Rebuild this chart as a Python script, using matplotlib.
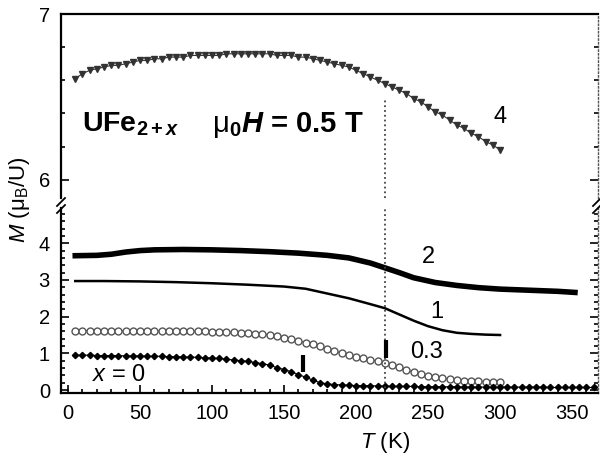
import numpy as np
import matplotlib.pyplot as plt
from matplotlib.ticker import MultipleLocator
from matplotlib.lines import Line2D

plt.rcParams['font.family'] = ['Liberation Sans', 'DejaVu Sans']
plt.rcParams['mathtext.fontset'] = 'custom'
plt.rcParams['mathtext.rm'] = 'Liberation Sans'
plt.rcParams['mathtext.it'] = 'Liberation Sans:italic'
plt.rcParams['mathtext.bf'] = 'Liberation Sans:bold'
plt.rcParams['mathtext.bfit'] = 'Liberation Sans:bold:italic'

# x = 4 (upper panel), triangles
t_x4 = np.arange(5, 305, 5)
m_x4 = [6.61, 6.64, 6.66, 6.67, 6.68, 6.69, 6.69, 6.70, 6.71, 6.72,
        6.72, 6.73, 6.73, 6.74, 6.74, 6.74, 6.75, 6.75, 6.75, 6.75,
        6.75, 6.76, 6.76, 6.76, 6.76, 6.76, 6.76, 6.76, 6.75, 6.75,
        6.75, 6.74, 6.74, 6.73, 6.72, 6.71, 6.70, 6.69, 6.68, 6.66,
        6.64, 6.62, 6.60, 6.58, 6.56, 6.54, 6.52, 6.49, 6.47, 6.44,
        6.41, 6.39, 6.36, 6.33, 6.31, 6.28, 6.26, 6.23, 6.21, 6.18]

# x = 2, thick line
t_x2 = [5, 20, 30, 40, 50, 60, 80, 100, 120, 140, 160, 180, 195, 210, 220,
        230, 240, 255, 270, 285, 300, 320, 340, 352]
m_x2 = [3.66, 3.67, 3.70, 3.76, 3.80, 3.82, 3.83, 3.82, 3.80, 3.77, 3.73,
        3.67, 3.60, 3.46, 3.33, 3.20, 3.06, 2.93, 2.85, 2.79, 2.75, 2.72,
        2.69, 2.66]

# x = 1, thin line
t_x1 = [5, 25, 50, 75, 100, 125, 150, 165, 180, 195, 210, 220, 230, 240,
        250, 260, 270, 280, 290, 300]
m_x1 = [2.97, 2.97, 2.96, 2.94, 2.91, 2.87, 2.82, 2.76, 2.63, 2.50, 2.34,
        2.23, 2.06, 1.89, 1.74, 1.63, 1.56, 1.53, 1.51, 1.50]

# x = 0.3, open circles
t_x03 = np.arange(5, 305, 5)
m_x03 = [1.62, 1.62, 1.62, 1.62, 1.62, 1.62, 1.62, 1.61, 1.61, 1.61,
         1.61, 1.61, 1.61, 1.61, 1.61, 1.60, 1.60, 1.60, 1.60, 1.59,
         1.59, 1.58, 1.57, 1.56, 1.55, 1.53, 1.52, 1.50, 1.46, 1.42,
         1.38, 1.34, 1.29, 1.25, 1.19, 1.13, 1.07, 1.01, 0.95, 0.91,
         0.87, 0.83, 0.78, 0.74, 0.68, 0.62, 0.55, 0.48, 0.43, 0.39,
         0.35, 0.32, 0.30, 0.28, 0.26, 0.25, 0.24, 0.23, 0.22, 0.22]

# x = 0, filled diamonds
t_x0 = np.arange(5, 370, 5)
m_x0 = [0.95, 0.95, 0.95, 0.94, 0.94, 0.94, 0.94, 0.93, 0.93, 0.93,
        0.92, 0.92, 0.92, 0.91, 0.91, 0.90, 0.90, 0.89, 0.88, 0.87,
        0.86, 0.84, 0.82, 0.80, 0.78, 0.75, 0.72, 0.68, 0.61, 0.56,
        0.50, 0.42, 0.35, 0.27, 0.20, 0.17, 0.15, 0.14, 0.13, 0.12,
        0.12, 0.12, 0.11, 0.11, 0.10, 0.10, 0.10, 0.10, 0.09, 0.09,
        0.09, 0.09, 0.09, 0.09, 0.08, 0.08, 0.08, 0.08, 0.08, 0.08,
        0.08, 0.08, 0.08, 0.08, 0.08, 0.08, 0.07, 0.07, 0.07, 0.07,
        0.07, 0.07, 0.07]

# transition markers (T, M bottom, M top)
bar_t = [163, 221]
bar_lo = [0.49, 0.87]
bar_hi = [0.95, 1.36]
t_line = 220

fig = plt.figure(figsize=(6, 4.54), dpi=100)
W, H = 600, 454
left, right = 61 / W, 598 / W
ax_up = fig.add_axes([left, (H - 198) / H, right - left, (198 - 14) / H])
ax_lo = fig.add_axes([left, (H - 393) / H, right - left, (393 - 208) / H])

for ax in (ax_up, ax_lo):
    ax.set_xlim(-4.9, 368)
    ax.xaxis.set_major_locator(MultipleLocator(50))
    ax.xaxis.set_minor_locator(MultipleLocator(10))
    ax.yaxis.set_minor_locator(MultipleLocator(0.2))
    ax.tick_params(which='both', direction='in', right=True, labelsize=14.5,
                   width=1.2, pad=8)
    ax.tick_params(which='major', length=6)
    ax.tick_params(which='minor', length=3)
    for s in ax.spines.values():
        s.set_linewidth(1.6)
    ax.spines['right'].set_linestyle(':')
    ax.spines['right'].set_linewidth(1.0)
    ax.spines['right'].set_color('#555555')

ax_up.set_ylim(5.89, 7.0)
ax_up.set_yticks([6, 7])
ax_up.spines['bottom'].set_visible(False)
ax_up.tick_params(which='both', bottom=False, labelbottom=False)

ax_lo.set_ylim(-0.08, 4.96)
ax_lo.set_yticks([0, 1, 2, 3, 4])
ax_lo.spines['top'].set_visible(False)
ax_lo.tick_params(which='both', top=False)

# curves
ax_up.plot(t_x4, m_x4, color='#333333', lw=0.8, marker='v', ms=3.8,
           mfc='#333333', mec='#333333')
ax_lo.plot(t_x2, m_x2, color='black', lw=4)
ax_lo.plot(t_x1, m_x1, color='black', lw=1.8)
ax_lo.plot(t_x03, m_x03, color='#555555', lw=0.8, marker='o', ms=5,
           mfc='white', mec='#555555', mew=1.0)
ax_lo.plot(t_x0, m_x0, color='black', lw=0.8, marker='D', ms=3.2,
           mfc='black', mec='black')

# dotted line at 220 K and short transition bars
ax_up.vlines(t_line, 5.89, 6.48, colors='#444444', linestyles=':', lw=1.3)
ax_lo.vlines(t_line, -0.08, 4.96, colors='#444444', linestyles=':', lw=1.3)
ax_lo.vlines(bar_t, bar_lo, bar_hi, colors='black', lw=3)

# labels
ax_up.text(300, 6.38, '4', fontsize=17, ha='center', va='center')
ax_lo.text(250, 3.62, '2', fontsize=17, ha='center', va='center')
ax_lo.text(256, 2.13, '1', fontsize=17, ha='center', va='center')
ax_lo.text(249, 1.04, '0.3', fontsize=17, ha='center', va='center')
ax_lo.text(35, 0.42, r'$\mathit{x}$ = 0', fontsize=17, ha='center', va='center')

ax_up.text(9.5, 6.29, r'$\mathbf{UFe}_{\mathbf{2+}\mathbfit{x}}$', fontsize=20.5,
           ha='left', va='baseline')
ax_up.text(100, 6.29, r'$\mathrm{\mu}_{\mathbf{0}}\mathbfit{H}$ = 0.5 T',
           fontsize=21, fontweight='bold', ha='left', va='baseline')

ax_lo.set_xlabel(r'$\mathit{T}$ (K)', fontsize=16)
ax_lo.xaxis.set_label_coords((385 - 61) / 537, -0.2)
fig.text(19 / W, 1 - 200 / H, r'$\mathit{M}$ ($\mathrm{\mu}_\mathrm{B}$/U)',
         fontsize=16, rotation=90, ha='center', va='center')

# axis break marks
for xp in (61, 597):
    for yp in (206, 213):
        fig.add_artist(Line2D([(xp - 4) / W, (xp + 4) / W],
                              [1 - yp / H, 1 - (yp - 8) / H],
                              transform=fig.transFigure, color='black', lw=1.3))

fig.savefig('out.png', dpi=100)
